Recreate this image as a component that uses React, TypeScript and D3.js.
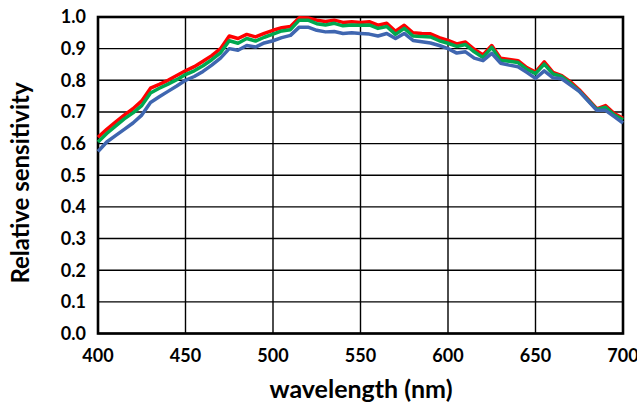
import React from "react";
import * as d3 from "d3";

const wavelengths = [400,405,410,415,420,425,430,435,440,445,450,455,460,465,470,475,480,485,490,495,500,505,510,515,520,525,530,535,540,545,550,555,560,565,570,575,580,585,590,595,600,605,610,615,620,625,630,635,640,645,650,655,660,665,670,675,680,685,690,695,700];

const redSeries = [0.62,0.645,0.668,0.69,0.71,0.735,0.775,0.787,0.80,0.815,0.83,0.843,0.86,0.878,0.90,0.94,0.932,0.945,0.937,0.948,0.958,0.966,0.97,0.998,0.997,0.99,0.986,0.99,0.983,0.985,0.983,0.985,0.974,0.98,0.955,0.974,0.95,0.948,0.947,0.935,0.926,0.915,0.921,0.898,0.88,0.91,0.87,0.866,0.862,0.84,0.826,0.858,0.825,0.815,0.795,0.77,0.74,0.71,0.72,0.695,0.68];

const greenSeries = [0.605,0.632,0.655,0.678,0.697,0.72,0.76,0.775,0.788,0.802,0.818,0.83,0.846,0.865,0.887,0.925,0.917,0.932,0.924,0.936,0.946,0.956,0.96,0.99,0.99,0.979,0.975,0.98,0.972,0.975,0.974,0.975,0.964,0.97,0.945,0.964,0.94,0.938,0.937,0.925,0.917,0.907,0.913,0.89,0.872,0.904,0.863,0.86,0.856,0.835,0.821,0.851,0.82,0.812,0.79,0.766,0.737,0.708,0.715,0.69,0.675];

const blueSeries = [0.575,0.605,0.625,0.645,0.665,0.69,0.73,0.748,0.765,0.782,0.80,0.812,0.828,0.848,0.87,0.9,0.895,0.91,0.905,0.918,0.925,0.935,0.942,0.968,0.968,0.958,0.953,0.954,0.948,0.95,0.948,0.946,0.94,0.948,0.932,0.948,0.926,0.922,0.918,0.91,0.9,0.886,0.89,0.87,0.862,0.885,0.854,0.848,0.843,0.825,0.806,0.83,0.808,0.805,0.785,0.765,0.735,0.705,0.705,0.685,0.665];

const xTicks = [400,450,500,550,600,650,700];
const yTicks = [0,0.1,0.2,0.3,0.4,0.5,0.6,0.7,0.8,0.9,1.0];

const seriesList = [
  { name: "R", values: redSeries, color: "#ff0000" },
  { name: "G", values: greenSeries, color: "#00a84f" },
  { name: "B", values: blueSeries, color: "#3f66b0" },
];

const W = 637, H = 408;
const L = 98, R = 623, T = 17, B = 333.5;
const FONT = "Lato, 'Open Sans', sans-serif";

export default function App() {
  const x = d3.scaleLinear().domain([400, 700]).range([L, R]);
  const y = d3.scaleLinear().domain([0, 1]).range([B, T]);
  const line = d3.line<number>()
    .x((_, i) => x(wavelengths[i]))
    .y((v) => y(v));

  return (
    <svg width={W} height={H} style={{ position: "absolute", left: 0, top: 0, background: "#fff" }}>
      <rect x={0} y={0} width={W} height={H} fill="#fff" />
      {yTicks.map((t) => (
        <line key={"gy" + t} x1={L} x2={R} y1={y(t)} y2={y(t)} stroke="#000" strokeWidth={1.4} />
      ))}
      {xTicks.map((t) => (
        <line key={"gx" + t} x1={x(t)} x2={x(t)} y1={T} y2={B} stroke="#000" strokeWidth={1.4} />
      ))}
      <rect x={L} y={T} width={R - L} height={B - T} fill="none" stroke="#000" strokeWidth={2.6} />
      {seriesList.map((s) => (
        <path key={s.name} d={line(s.values) || ""} fill="none" stroke={s.color} strokeWidth={3.5} strokeLinejoin="round" />
      ))}
      {yTicks.map((t) => (
        <text key={"ty" + t} x={86} y={y(t)} dy="0.35em" textAnchor="end" fontFamily={FONT} fontWeight={700} fontSize={18} fill="#000">
          {t.toFixed(1)}
        </text>
      ))}
      {xTicks.map((t) => (
        <text key={"tx" + t} x={x(t)} y={356} dy="0.35em" textAnchor="middle" fontFamily={FONT} fontWeight={700} fontSize={18} fill="#000">
          {t}
        </text>
      ))}
      <text x={361} y={389} dy="0.35em" textAnchor="middle" fontFamily={FONT} fontWeight={700} fontSize={25} fill="#000">
        wavelength (nm)
      </text>
      <text transform={`translate(21,183) rotate(-90)`} dy="0.35em" textAnchor="middle" fontFamily={FONT} fontWeight={700} fontSize={24} fill="#000">
        Relative sensitivity
      </text>
    </svg>
  );
}
